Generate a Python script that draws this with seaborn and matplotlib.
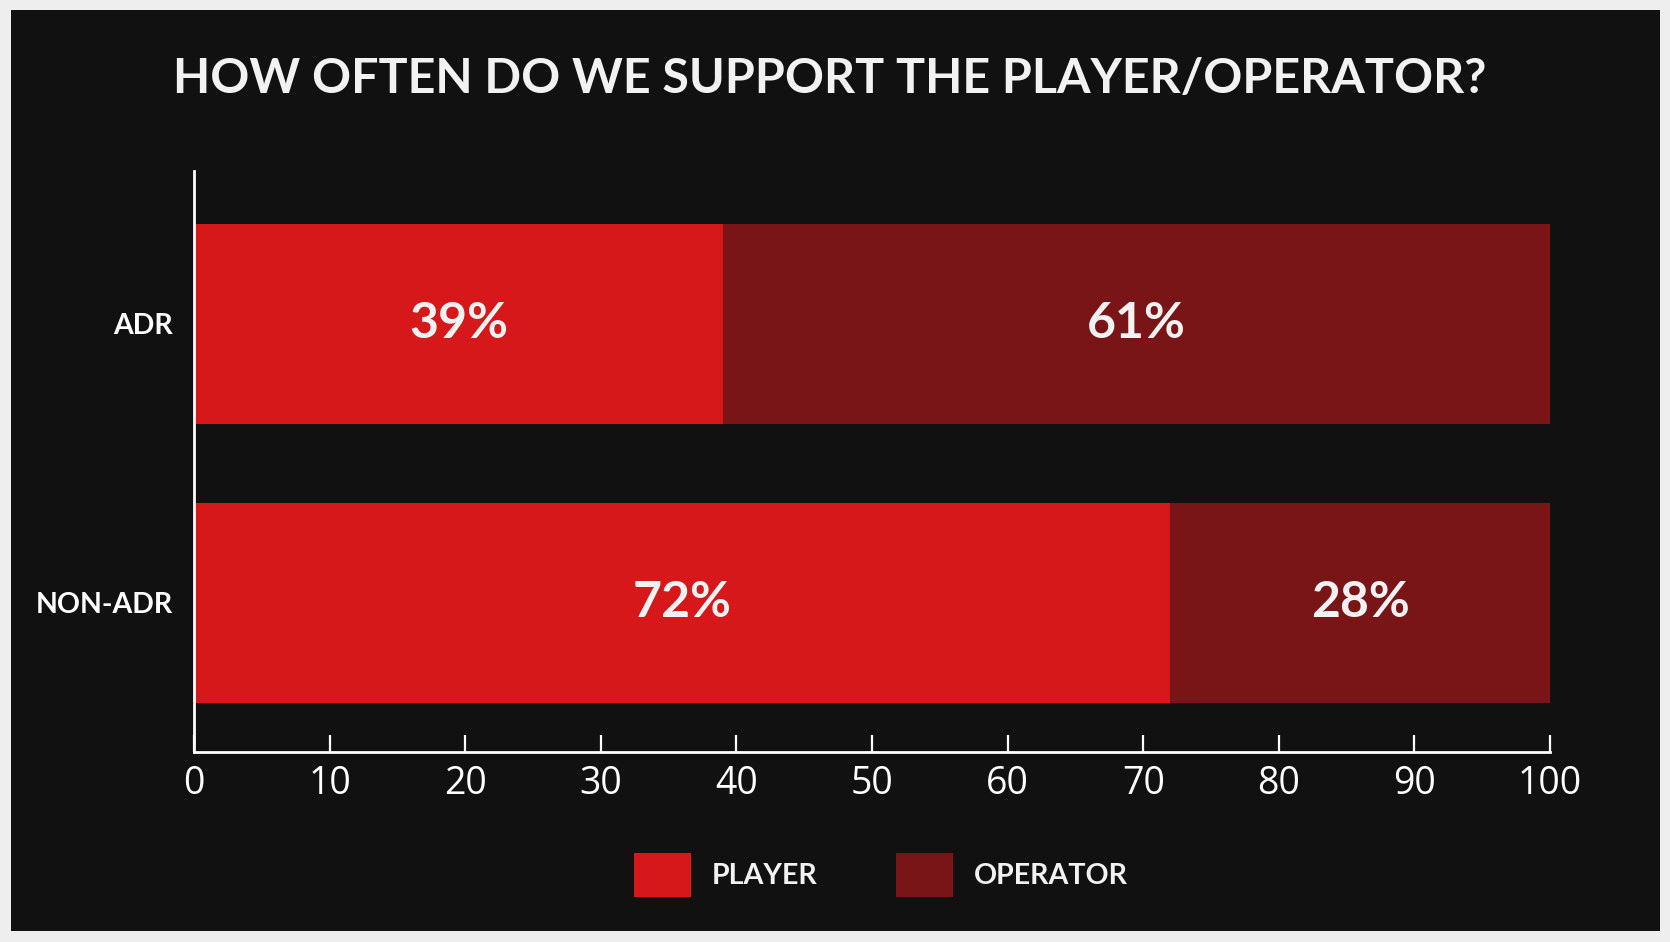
import pandas as pd
import matplotlib.pyplot as plt
import seaborn as sns
from matplotlib.patches import Rectangle, Patch

# Data
groups = ['ADR', 'NON-ADR']
player = [39, 72]
operator = [61, 28]
x_ticks = [0, 10, 20, 30, 40, 50, 60, 70, 80, 90, 100]

player_color = '#d7181b'
operator_color = '#7a1517'
bg_color = '#111111'
text_color = '#f2f2f2'

df = pd.DataFrame({'group': groups, 'PLAYER': player, 'OPERATOR': operator})
df['TOTAL'] = df['PLAYER'] + df['OPERATOR']

sns.set_theme(style='white')
plt.rcParams['font.family'] = ['Lato', 'DejaVu Sans']

W, H = 1670, 942
fig = plt.figure(figsize=(W / 100, H / 100), dpi=100, facecolor='#eeeeee')
# dark card on a light border
fig.patches.append(Rectangle((11 / W, 11 / H), 1649 / W, 921 / H,
                             transform=fig.transFigure, facecolor=bg_color,
                             edgecolor='none', zorder=-5))

ax = fig.add_axes([194 / W, 1 - 752 / H, 1356 / W, 581.5 / H])
ax.set_facecolor(bg_color)

# stacked bars: total first (operator colour), player on top
sns.barplot(data=df, y='group', x='TOTAL', color=operator_color, orient='h',
            width=0.717, saturation=1, linewidth=0, ax=ax)
sns.barplot(data=df, y='group', x='PLAYER', color=player_color, orient='h',
            width=0.717, saturation=1, linewidth=0, ax=ax)

# percentage labels centred in each segment
for i, (p, o) in enumerate(zip(player, operator)):
    ax.text(p / 2, i, f'{p}%', ha='center', va='center', color=text_color,
            fontsize=36, fontweight='bold')
    ax.text(p + o / 2, i, f'{o}%', ha='center', va='center', color=text_color,
            fontsize=36, fontweight='bold')

ax.set_xlim(0, 100)
ax.set_ylim(1.534, -0.549)
ax.set_xticks(x_ticks)
ax.set_xticklabels([str(t) for t in x_ticks], family=['Open Sans', 'DejaVu Sans'])
ax.set_xlabel('')
ax.set_ylabel('')
ax.tick_params(axis='x', direction='in', length=12, width=1.6, color='white',
               labelcolor='white', labelsize=27, pad=9, bottom=True)
ax.tick_params(axis='y', length=0, labelcolor='white', labelsize=20.5, pad=15)
for lab in ax.get_yticklabels():
    lab.set_fontweight('bold')
for side in ['top', 'right']:
    ax.spines[side].set_visible(False)
for side in ['left', 'bottom']:
    ax.spines[side].set_color('white')
    ax.spines[side].set_linewidth(2)

fig.text(830 / W, 1 - 79 / H, 'HOW OFTEN DO WE SUPPORT THE PLAYER/OPERATOR?',
         ha='center', va='center', color=text_color, fontsize=34.8, fontweight='bold')

handles = [Patch(facecolor=player_color, edgecolor='none', label='PLAYER'),
           Patch(facecolor=operator_color, edgecolor='none', label='OPERATOR')]
leg = fig.legend(handles=handles, loc='center', bbox_to_anchor=(881 / W, 1 - 875 / H),
                 ncol=2, frameon=False, handlelength=2.0, handleheight=2.0,
                 handletextpad=0.72, columnspacing=2.75, prop={'size': 20.6, 'weight': 'bold'})
for t in leg.get_texts():
    t.set_color(text_color)

fig.savefig('out.png', dpi=100, facecolor=fig.get_facecolor())
